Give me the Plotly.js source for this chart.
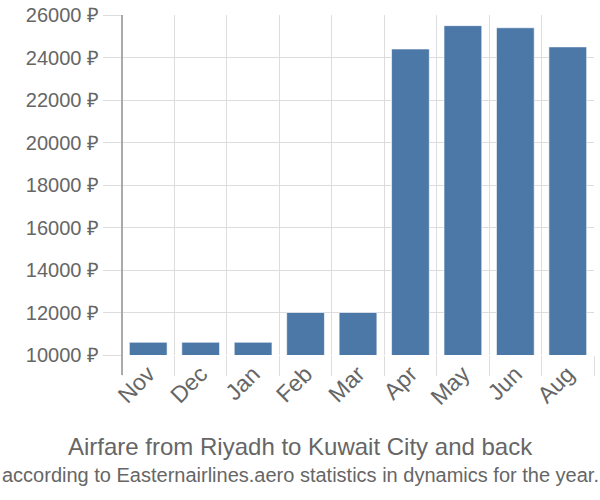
<!DOCTYPE html>
<html>
<head>
<meta charset="utf-8">
<script src="https://cdn.plot.ly/plotly-3.0.1.min.js"></script>
<style>html,body{margin:0;padding:0;background:#fff;}#chart{width:600px;height:500px;}</style>
</head>
<body>
<div id="chart"></div>
<script>
var months = ["Nov", "Dec", "Jan", "Feb", "Mar", "Apr", "May", "Jun", "Aug"];
var prices = [10600, 10600, 10600, 12000, 12000, 24400, 25500, 25400, 24500];
var yTicks = [10000, 12000, 14000, 16000, 18000, 20000, 22000, 24000, 26000];
var yTickLabels = yTicks.map(function (v) { return v + " ₽"; });
var titleLine1 = "Airfare from Riyadh to Kuwait City and back";
var titleLine2 = "according to Easternairlines.aero statistics in dynamics for the year.";

var font = "Liberation Sans, Arial, sans-serif";
var trace = {
  type: "bar",
  x: months,
  y: prices,
  width: 0.72,
  marker: { color: "#4c78a8", line: { color: "rgba(255,255,255,0.6)", width: 1 } },
  hoverinfo: "none"
};
var pageCenter = (300 - 122) / 472;
var layout = {
  width: 600, height: 500,
  margin: { l: 122, r: 6, t: 15, b: 145 },
  paper_bgcolor: "#fff", plot_bgcolor: "#fff",
  showlegend: false,
  font: { family: font, color: "#666" },
  xaxis: {
    type: "category",
    tickson: "boundaries",
    ticks: "outside", ticklen: 20, tickcolor: "#ddd", tickwidth: 1,
    showgrid: true, gridcolor: "#ddd", gridwidth: 1,
    tickangle: -45,
    tickfont: { size: 23, color: "#666", family: font },
    showline: false, zeroline: false
  },
  yaxis: {
    range: [10000, 26000],
    tickvals: yTicks, ticktext: yTickLabels,
    ticks: "outside", ticklen: 18, tickcolor: "#ddd", tickwidth: 1,
    showgrid: true, gridcolor: "#ddd", gridwidth: 1,
    tickfont: { size: 20, color: "#666", family: font },
    showline: false, zeroline: false
  },
  shapes: [{
    type: "line", xref: "paper", yref: "paper",
    x0: 0, x1: 0, y0: -0.059, y1: 1,
    line: { color: "#aaa", width: 2 }
  }],
  annotations: [
    { xref: "paper", yref: "paper", x: pageCenter, xanchor: "center", y: -0.268, yanchor: "middle",
      text: titleLine1, showarrow: false,
      font: { size: 24, color: "#666", family: font } },
    { xref: "paper", yref: "paper", x: pageCenter, xanchor: "center", y: -0.353, yanchor: "middle",
      text: titleLine2, showarrow: false,
      font: { size: 20, color: "#666", family: font } }
  ]
};
Plotly.newPlot("chart", [trace], layout, { staticPlot: true, displayModeBar: false });
</script>
</body>
</html>
